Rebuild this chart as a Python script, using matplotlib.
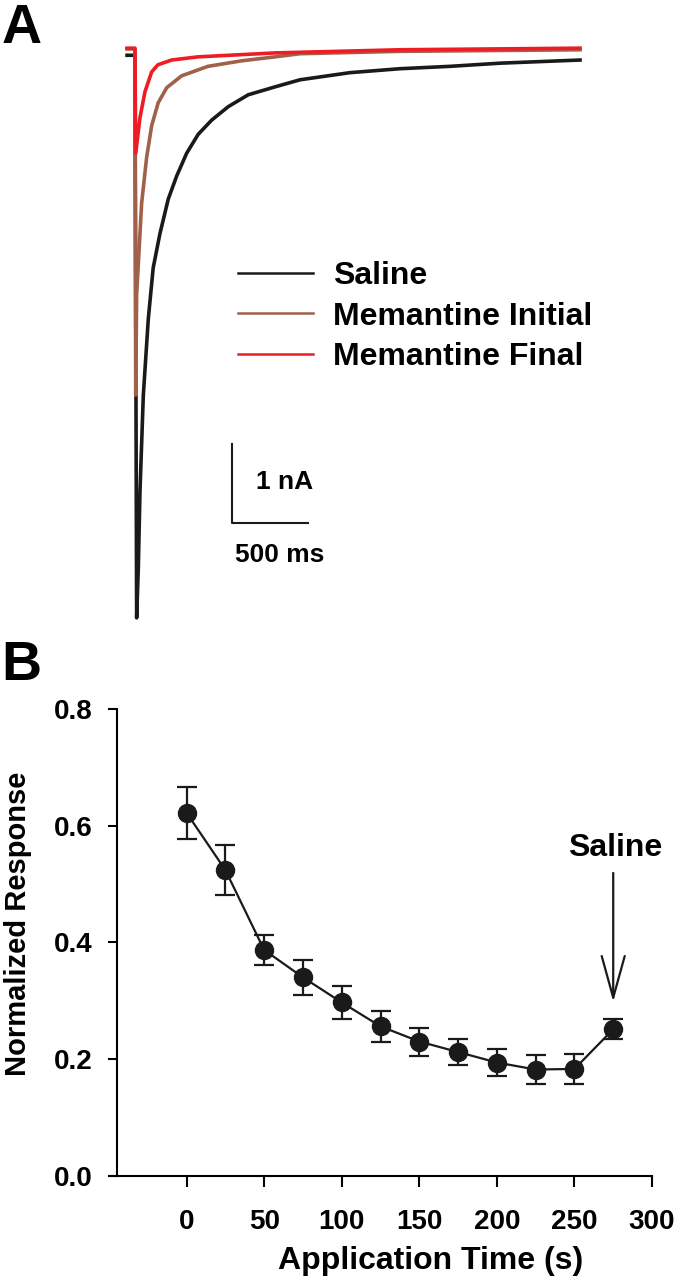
import matplotlib
matplotlib.use("Agg")
import matplotlib.pyplot as plt

plt.rcParams['font.family'] = ['Liberation Sans', 'DejaVu Sans']
plt.rcParams['font.weight'] = 'bold'

# Panel A: current traces (time in ms, current in nA)
saline_t = [-52, 0, 11, 22, 33, 55, 88, 120, 164, 219, 274, 340, 416, 505, 614,
            745, 921, 1086, 1414, 1743, 2072, 2401, 2928]
saline_i = [-0.08, -0.08, -7.2, -6.57, -5.6, -4.38, -3.41, -2.77, -2.34, -1.90, -1.61,
            -1.32, -1.08, -0.90, -0.73, -0.58, -0.48, -0.39, -0.30, -0.25, -0.22,
            -0.18, -0.14]

initial_t = [-52, 0, 5, 11, 44, 77, 110, 153, 209, 307, 480, 702, 921, 1086, 1743, 2928]
initial_i = [0.0, 0.0, -4.38, -3.11, -1.95, -1.37, -0.97, -0.68, -0.49, -0.34, -0.22,
             -0.15, -0.10, -0.06, -0.03, -0.01]

final_t = [-52, 0, 5, 33, 66, 110, 151, 241, 414, 921, 1743, 2928]
final_i = [0.01, 0.01, -1.32, -0.87, -0.54, -0.29, -0.20, -0.14, -0.10, -0.05, -0.01, 0.01]

trace_labels = ["Saline", "Memantine Initial", "Memantine Final"]
trace_colors = ["#1a1a1a", "#a0604a", "#ee1c24"]

# Panel B: normalized response over application time
app_time = [0, 25, 50, 75, 100, 125, 150, 175, 200, 225, 250, 275]
response = [0.622, 0.524, 0.387, 0.340, 0.297, 0.256, 0.230, 0.212, 0.194, 0.182, 0.183, 0.251]
response_err = [0.045, 0.043, 0.025, 0.030, 0.029, 0.026, 0.024, 0.022, 0.023, 0.025, 0.025, 0.017]

fig = plt.figure(figsize=(6.76, 12.8), dpi=100)

# ---- Panel A ----
axA = fig.add_axes([100 / 676, 0.5, 520 / 676, 610 / 1280])
axA.set_xlim(-230, 3191)
axA.set_ylim(-7.48, 0.24)
axA.axis('off')

for t, i, lab, col in zip([saline_t, initial_t, final_t], [saline_i, initial_i, final_i],
                          trace_labels, trace_colors):
    axA.plot(t, i, color=col, lw=2.6, label=lab, solid_joinstyle='round')

leg = axA.legend(loc='upper left', bbox_to_anchor=(238 / 676, 1 - 261 / 1280),
                 bbox_transform=fig.transFigure, frameon=False, fontsize=23,
                 handlelength=2.35, handletextpad=0.63, labelspacing=0.33,
                 borderpad=0, borderaxespad=0)
for h in leg.get_lines():
    h.set_linewidth(1.8)

# scale bar: 1 nA, 500 ms
bar_t0, bar_i0 = 638, -6.0
axA.plot([bar_t0, bar_t0, bar_t0 + 500], [bar_i0 + 1, bar_i0, bar_i0], color='#1a1a1a', lw=1.5)
axA.text(bar_t0 + 349, bar_i0 + 0.52, "1 nA", ha='center', va='center', fontsize=19)
axA.text(bar_t0 + 316, bar_i0 - 0.41, "500 ms", ha='center', va='center', fontsize=19)

fig.text(0.002, 0.998, "A", fontsize=40, fontweight='bold', ha='left', va='top')

# ---- Panel B ----
axB = fig.add_axes([109 / 676, (1280 - 1175.7) / 1280, 543 / 676, 466.7 / 1280])
axB.errorbar(app_time, response, yerr=response_err, color='#1a1a1a', marker='o',
             markersize=13, lw=1.6, elinewidth=1.6, capsize=7, capthick=1.6)
axB.set_xlim(-50, 300)
axB.set_ylim(0, 0.8)
axB.spines['top'].set_visible(False)
axB.spines['right'].set_visible(False)
axB.spines['left'].set_position(('data', -45))
axB.spines['left'].set_linewidth(1.5)
axB.spines['bottom'].set_linewidth(1.5)
axB.set_xticks([0, 50, 100, 150, 200, 250, 300])
axB.set_yticks([0.0, 0.2, 0.4, 0.6, 0.8])
axB.set_yticklabels(["0.0", "0.2", "0.4", "0.6", "0.8"])
axB.tick_params(axis='x', direction='out', length=8, width=1.5, pad=16, labelsize=20)
axB.tick_params(axis='y', direction='out', length=6.5, width=1.5, pad=11, labelsize=20)
axB.set_xlabel("Application Time (s)", fontsize=23, fontweight='bold')
axB.set_ylabel("Normalized Response", fontsize=21, fontweight='bold', va='center')
axB.xaxis.set_label_coords(0.593, -0.15)
axB.yaxis.set_label_coords(-0.168, 0.539)

axB.annotate("", xy=(275, 0.298), xytext=(275, 0.519),
             arrowprops=dict(arrowstyle='->,head_length=30,head_width=8.3',
                             mutation_scale=1, lw=1.6, color='#1a1a1a',
                             shrinkA=0, shrinkB=0))
axB.text(276, 0.562, "Saline", ha='center', va='center', fontsize=23)

fig.text(0.002, 1 - 640 / 1280, "B", fontsize=40, fontweight='bold', ha='left', va='top')

fig.savefig("out.png", dpi=100)
